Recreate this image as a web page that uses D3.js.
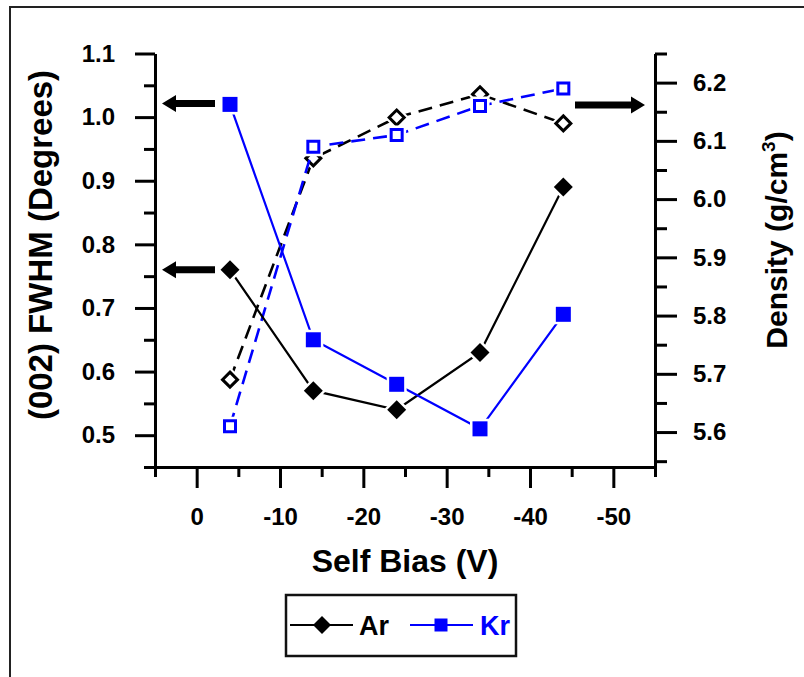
<!DOCTYPE html>
<html>
<head>
<meta charset="utf-8">
<script src="https://cdn.jsdelivr.net/npm/d3@7"></script>
<style>
  html, body { margin: 0; padding: 0; background: #fff; }
  svg { display: block; font-family: "Liberation Sans", Arial, sans-serif; font-weight: bold; }
</style>
</head>
<body>
<svg id="chart" width="804" height="677"></svg>
<script>
// Self bias (V) of each deposition
const selfBias = [-4, -14, -24, -34, -44];

// (002) FWHM in degrees, left axis
const fwhmAr = [0.76, 0.57, 0.54, 0.63, 0.89];
const fwhmKr = [1.02, 0.65, 0.58, 0.51, 0.69];

// Film density in g/cm3, right axis
const densityAr = [5.69, 6.07, 6.14, 6.18, 6.13];
const densityKr = [5.61, 6.09, 6.11, 6.16, 6.19];

// Axis ticks
const xMajor = [0, -10, -20, -30, -40, -50];
const xMinor = [5, -5, -15, -25, -35, -45, -55];
const leftMajor = [0.5, 0.6, 0.7, 0.8, 0.9, 1.0, 1.1];
const leftMinor = [0.45, 0.55, 0.65, 0.75, 0.85, 0.95, 1.05];
const rightMajor = [5.6, 5.7, 5.8, 5.9, 6.0, 6.1, 6.2];
const rightMinor = [5.55, 5.65, 5.75, 5.85, 5.95, 6.05, 6.15, 6.25];

const BLACK = "#000";
const BLUE = "#0000ff";

const svg = d3.select("#chart");

// outer frame of the figure
svg.append("rect")
  .attr("x", 10).attr("y", 7).attr("width", 900).attr("height", 900)
  .attr("fill", "none").attr("stroke", "#222").attr("stroke-width", 2);

const plot = { left: 155, right: 655, top: 53.5, bottom: 467 };

const x = d3.scaleLinear().domain([5, -55]).range([plot.left, plot.right]);
const yL = d3.scaleLinear().domain([0.45, 1.1]).range([plot.bottom, plot.top]);
const yR = d3.scaleLinear().domain([5.54, 6.25]).range([plot.bottom, plot.top]);

function styleAxis(g, fontSize) {
  g.selectAll("path.domain").attr("stroke", BLACK).attr("stroke-width", 3);
  g.selectAll(".tick line").attr("stroke", BLACK).attr("stroke-width", 3);
  g.selectAll(".tick text")
    .attr("fill", BLACK)
    .style("font-size", fontSize + "px")
    .style("font-weight", "bold")
    .style("font-family", '"Liberation Sans", Arial, sans-serif');
  g.attr("font-family", null).attr("font-size", null);
}

// minor ticks (no labels)
svg.append("g").attr("transform", `translate(0,${plot.bottom})`)
  .call(d3.axisBottom(x).tickValues(xMinor).tickSize(10).tickSizeOuter(0).tickFormat(""))
  .call(g => { styleAxis(g, 24); g.select(".domain").remove(); });
svg.append("g").attr("transform", `translate(${plot.left},0)`)
  .call(d3.axisLeft(yL).tickValues(leftMinor).tickSize(11).tickSizeOuter(0).tickFormat(""))
  .call(g => { styleAxis(g, 24); g.select(".domain").remove(); });
svg.append("g").attr("transform", `translate(${plot.right},0)`)
  .call(d3.axisRight(yR).tickValues(rightMinor).tickSize(12).tickSizeOuter(0).tickFormat(""))
  .call(g => { styleAxis(g, 24); g.select(".domain").remove(); });

// major ticks with labels
svg.append("g").attr("transform", `translate(0,${plot.bottom})`)
  .call(d3.axisBottom(x).tickValues(xMajor).tickSize(21).tickSizeOuter(0).tickPadding(20)
    .tickFormat(d => String(d)))
  .call(g => styleAxis(g, 24));
svg.append("g").attr("transform", `translate(${plot.left},0)`)
  .call(d3.axisLeft(yL).tickValues(leftMajor).tickSize(20).tickSizeOuter(0).tickPadding(20)
    .tickFormat(d3.format(".1f")))
  .call(g => styleAxis(g, 24));
svg.append("g").attr("transform", `translate(${plot.right},0)`)
  .call(d3.axisRight(yR).tickValues(rightMajor).tickSize(22).tickSizeOuter(0).tickPadding(16)
    .tickFormat(d3.format(".1f")))
  .call(g => styleAxis(g, 24));

// axis titles
svg.append("text")
  .attr("x", 405).attr("y", 572)
  .attr("text-anchor", "middle")
  .style("font-size", "32px")
  .text("Self Bias (V)");

svg.append("text")
  .attr("transform", "translate(52,245) rotate(-90)")
  .attr("text-anchor", "middle")
  .style("font-size", "33px")
  .text("(002) FWHM (Degrees)");

const rt = svg.append("text")
  .attr("transform", "translate(787,240) rotate(-90)")
  .attr("text-anchor", "middle")
  .style("font-size", "30px");
rt.append("tspan").text("Density (g/cm");
rt.append("tspan").attr("dy", -12).style("font-size", "19px").text("3");
rt.append("tspan").attr("dy", 12).text(")");

// marker shapes
const diamond = r => `M0,${-r}L${r},0L0,${r}L${-r},0Z`;
const square = r => `M${-r},${-r}H${r}V${r}H${-r}Z`;

function series(xs, ys, yScale, color, dashed, shape, r, open) {
  const pts = xs.map((v, i) => [x(v), yScale(ys[i])]);
  const g = svg.append("g");
  g.append("path")
    .attr("d", d3.line()(pts))
    .attr("fill", "none")
    .attr("stroke", color)
    .attr("stroke-width", dashed ? 2.6 : 2.2)
    .attr("stroke-dasharray", dashed ? "14,8" : null);
  const m = g.selectAll("g.m").data(pts).join("g")
    .attr("transform", d => `translate(${d[0]},${d[1]})`);
  // white halo keeps the line clear of each marker
  m.append("path")
    .attr("d", shape(r + (open ? 1.5 : 0)))
    .attr("fill", "#fff").attr("stroke", "#fff").attr("stroke-width", 5);
  m.append("path")
    .attr("d", shape(r))
    .attr("fill", open ? "#fff" : color)
    .attr("stroke", open ? color : "none")
    .attr("stroke-width", open ? 3 : 0);
}

// density (dashed, open markers)
series(selfBias, densityAr, yR, BLACK, true, diamond, 7.5, true);
series(selfBias, densityKr, yR, BLUE, true, square, 5.5, true);
// FWHM (solid, filled markers)
series(selfBias, fwhmAr, yL, BLACK, false, diamond, 9.5, false);
series(selfBias, fwhmKr, yL, BLUE, false, square, 7.5, false);

// arrows pointing each curve to its axis
function arrow(tipX, tailX, y) {
  const dir = Math.sign(tailX - tipX);
  const hl = 14, hh = 8.5, st = 3.5;
  const p = [
    [tipX, y],
    [tipX + dir * hl, y - hh],
    [tipX + dir * hl, y - st],
    [tailX, y - st],
    [tailX, y + st],
    [tipX + dir * hl, y + st],
    [tipX + dir * hl, y + hh]
  ];
  svg.append("path")
    .attr("d", "M" + p.map(q => q.join(",")).join("L") + "Z")
    .attr("fill", BLACK);
}
arrow(162, 215, yL(fwhmKr[0]) - 1);
arrow(162, 215, yL(fwhmAr[0]));
arrow(645, 575, 105);

// legend
const lg = svg.append("g");
lg.append("rect")
  .attr("x", 286).attr("y", 595).attr("width", 230).attr("height", 61)
  .attr("fill", "#fff").attr("stroke", "#111").attr("stroke-width", 2.5);
lg.append("line").attr("x1", 290).attr("x2", 353).attr("y1", 625).attr("y2", 625)
  .attr("stroke", BLACK).attr("stroke-width", 2.2);
lg.append("path").attr("transform", "translate(322,625)").attr("d", diamond(9)).attr("fill", BLACK);
lg.append("text").attr("x", 359).attr("y", 635).style("font-size", "27px").attr("fill", BLACK).text("Ar");
lg.append("line").attr("x1", 410).attr("x2", 473).attr("y1", 625).attr("y2", 625)
  .attr("stroke", BLUE).attr("stroke-width", 2.2);
lg.append("path").attr("transform", "translate(441,625)").attr("d", square(6.5)).attr("fill", BLUE);
lg.append("text").attr("x", 480).attr("y", 635).style("font-size", "27px").attr("fill", BLUE).text("Kr");
</script>
</body>
</html>
